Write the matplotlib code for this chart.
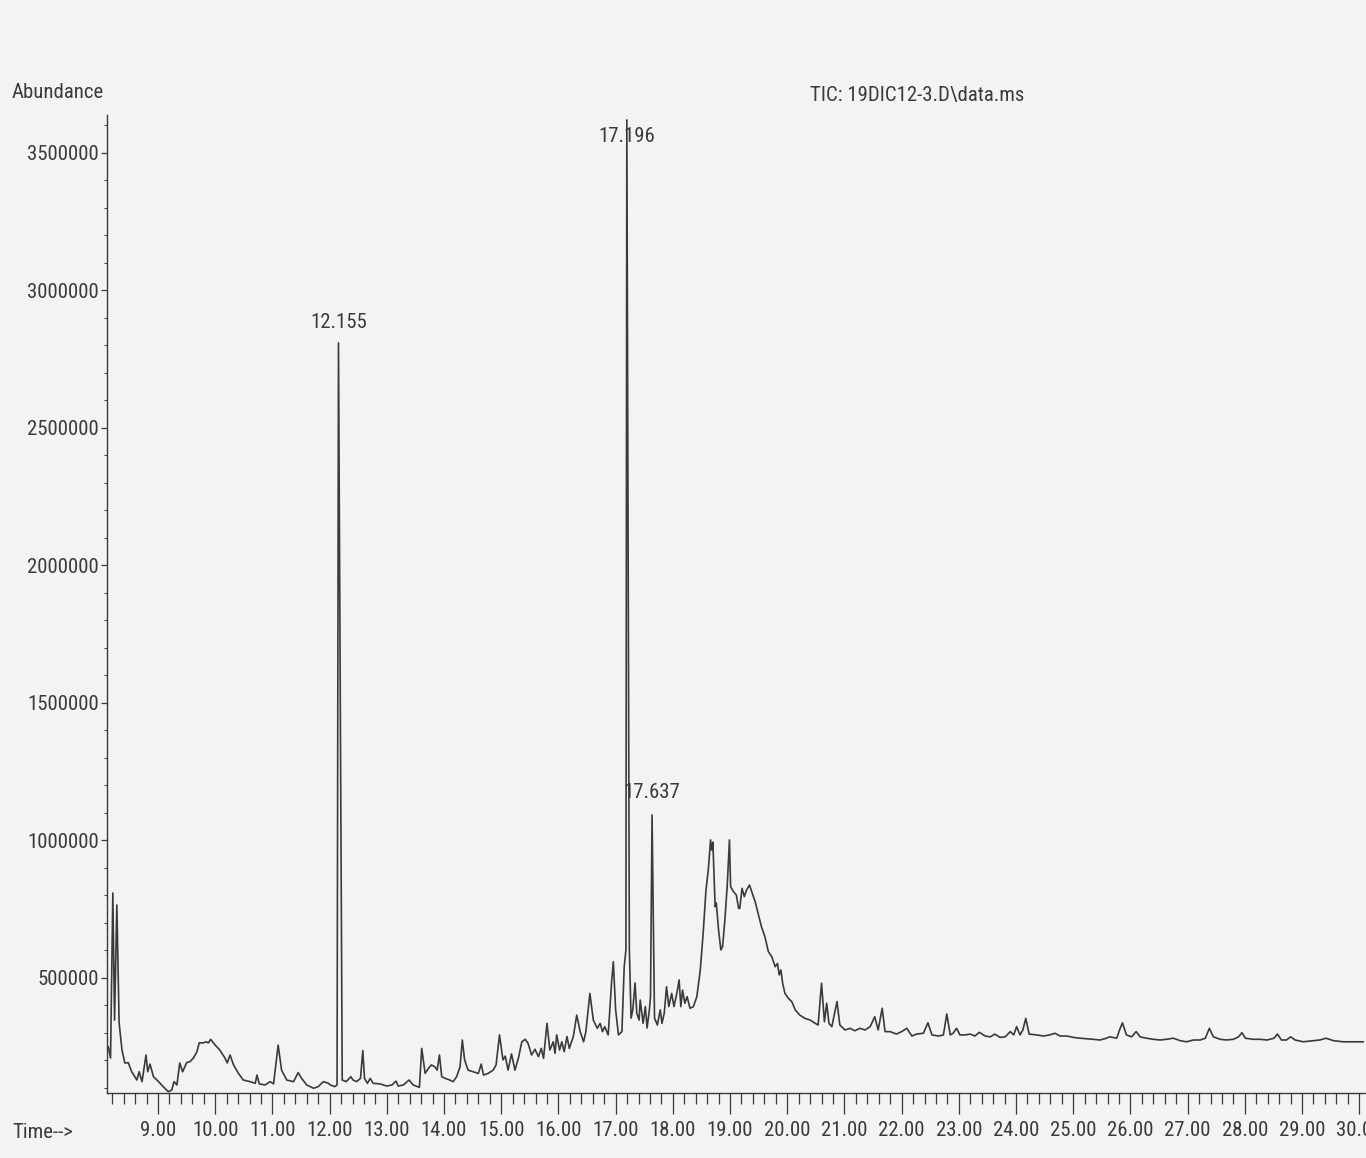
import numpy as np
import matplotlib
matplotlib.use('Agg')
import matplotlib.pyplot as plt
from matplotlib import font_manager as fm
from matplotlib.ticker import MultipleLocator, FuncFormatter

# retention time (min)
time = [
    8.09, 8.13, 8.17, 8.21, 8.24, 8.28, 8.32, 8.37, 8.42, 8.48, 8.54, 8.63, 8.67, 8.72, 8.79,
    8.82, 8.86, 8.92, 9.01, 9.09, 9.18, 9.24, 9.28, 9.33, 9.38, 9.43, 9.50, 9.56, 9.62, 9.68,
    9.72, 9.79, 9.84, 9.88, 9.92, 10.00, 10.08, 10.17, 10.21, 10.26, 10.32, 10.40, 10.49, 10.61,
    10.70, 10.73, 10.77, 10.87, 10.96, 11.02, 11.10, 11.16, 11.25, 11.37, 11.45, 11.51, 11.60,
    11.72, 11.80, 11.89, 11.98, 12.01, 12.09, 12.13, 12.155, 12.22, 12.29, 12.37, 12.41, 12.47,
    12.54, 12.58, 12.61, 12.66, 12.71, 12.76, 12.88, 13.00, 13.09, 13.16, 13.20, 13.29, 13.39,
    13.46, 13.57, 13.61, 13.67, 13.73, 13.78, 13.84, 13.88, 13.92, 13.96, 14.02, 14.10, 14.16,
    14.22, 14.28, 14.32, 14.36, 14.42, 14.51, 14.60, 14.65, 14.69, 14.77, 14.86, 14.91, 14.97,
    15.03, 15.07, 15.12, 15.18, 15.24, 15.30, 15.36, 15.42, 15.47, 15.53, 15.59, 15.65, 15.70,
    15.74, 15.80, 15.85, 15.91, 15.94, 15.97, 16.02, 16.06, 16.10, 16.15, 16.19, 16.26, 16.32,
    16.38, 16.44, 16.48, 16.55, 16.61, 16.68, 16.73, 16.77, 16.81, 16.87, 16.93, 16.96, 17.00,
    17.05, 17.11, 17.15, 17.18, 17.196, 17.24, 17.27, 17.30, 17.34, 17.37, 17.41, 17.43, 17.48,
    17.52, 17.55, 17.59, 17.61, 17.637, 17.68, 17.73, 17.78, 17.81, 17.85, 17.89, 17.93, 17.98,
    18.02, 18.07, 18.11, 18.14, 18.17, 18.21, 18.25, 18.30, 18.36, 18.42, 18.48, 18.53, 18.58,
    18.62, 18.66, 18.68, 18.70, 18.74, 18.76, 18.80, 18.84, 18.87, 18.91, 18.95, 18.99, 19.01,
    19.06, 19.11, 19.15, 19.17, 19.21, 19.25, 19.29, 19.34, 19.38, 19.44, 19.49, 19.55, 19.61,
    19.67, 19.73, 19.79, 19.83, 19.86, 19.89, 19.92, 19.96, 20.02, 20.08, 20.14, 20.22, 20.31,
    20.40, 20.49, 20.54, 20.60, 20.65, 20.69, 20.73, 20.78, 20.87, 20.92, 21.01, 21.10, 21.18,
    21.27, 21.36, 21.45, 21.53, 21.59, 21.66, 21.71, 21.80, 21.91, 22.00, 22.09, 22.18, 22.26,
    22.38, 22.46, 22.53, 22.65, 22.73, 22.79, 22.85, 22.90, 22.96, 23.02, 23.11, 23.20, 23.28,
    23.36, 23.46, 23.55, 23.63, 23.72, 23.81, 23.90, 23.96, 24.01, 24.07, 24.12, 24.17, 24.23,
    24.36, 24.48, 24.59, 24.68, 24.77, 24.89, 25.00, 25.12, 25.24, 25.35, 25.47, 25.58, 25.64,
    25.76, 25.81, 25.86, 25.93, 26.02, 26.10, 26.17, 26.28, 26.40, 26.52, 26.63, 26.75, 26.87,
    26.98, 27.10, 27.22, 27.31, 27.38, 27.45, 27.57, 27.68, 27.80, 27.89, 27.95, 28.01, 28.15,
    28.27, 28.39, 28.51, 28.57, 28.64, 28.73, 28.80, 28.88, 29.02, 29.20, 29.31, 29.42, 29.55,
    29.72, 29.89, 30.07,
]

# total ion current abundance
abundance = [
    245000, 250000, 209000, 809000, 347000, 765000, 336000, 238000, 191000, 192000, 159000,
    129000, 159000, 123000, 220000, 159000, 187000, 141000, 123000, 105000, 86500, 92700,
    123000, 111000, 191000, 159000, 192000, 196000, 209000, 232000, 264000, 264000, 268000,
    264000, 277000, 256000, 238000, 209000, 191000, 220000, 184000, 155000, 129000, 123000,
    117000, 147000, 115000, 111000, 123000, 115000, 256000, 165000, 129000, 123000, 156000,
    135000, 111000, 99000, 105000, 123000, 117000, 111000, 105000, 111000, 2809000, 129000,
    123000, 141000, 129000, 123000, 135000, 236000, 135000, 117000, 135000, 117000, 115000,
    107000, 111000, 125000, 107000, 111000, 129000, 111000, 102500, 244000, 153000, 172000,
    184000, 177000, 165000, 220000, 141000, 135000, 129000, 123000, 141000, 177000, 274500,
    202000, 165000, 159000, 153000, 187000, 147000, 153000, 165000, 184000, 293000, 202000,
    216000, 165000, 224000, 165000, 208000, 268000, 277000, 262000, 220000, 241000, 214000,
    244000, 208000, 335000, 238000, 268000, 226000, 293000, 238000, 268000, 232000, 287000,
    244000, 287000, 365000, 305000, 268000, 305000, 444000, 347000, 317000, 335000, 305000,
    323000, 293000, 486000, 559000, 384000, 293000, 305000, 541000, 602000, 3620000, 602000,
    354000, 384000, 482000, 372000, 347000, 420000, 335000, 396000, 318000, 384000, 432000,
    1093000, 354000, 329000, 384000, 335000, 372000, 468000, 396000, 444000, 396000, 444000,
    493000, 396000, 456000, 408000, 432000, 390000, 396000, 432000, 529000, 662000, 820000,
    893000, 1002000, 965000, 994000, 759000, 773000, 674000, 602000, 614000, 711000, 832000,
    1002000, 832000, 814000, 802000, 753000, 753000, 826000, 796000, 820000, 838000, 814000,
    777000, 735000, 686000, 650000, 596000, 577000, 541000, 553000, 511000, 529000, 481000,
    444000, 426000, 414000, 384000, 365000, 353000, 347000, 335000, 329000, 481000, 341000,
    408000, 335000, 323000, 414000, 329000, 311000, 317000, 308000, 317000, 311000, 323000,
    359000, 311000, 390000, 305000, 305000, 296000, 305000, 317000, 289000, 296000, 299000,
    337000, 293000, 289000, 293000, 369000, 293000, 299000, 317000, 293000, 293000, 296000,
    289000, 302500, 289000, 286000, 296000, 284000, 286000, 305000, 293000, 323000, 293000,
    311000, 353000, 296000, 293000, 289000, 293000, 299000, 289000, 289000, 284000, 281000,
    279000, 277000, 274500, 281000, 286000, 281000, 311000, 337000, 293000, 286000, 305000,
    286000, 281000, 277000, 274500, 277000, 281000, 272000, 268000, 274500, 274500, 281000,
    317000, 286000, 277000, 274500, 277000, 286000, 301000, 281000, 277000, 277000, 274500,
    281000, 296000, 274500, 274500, 286000, 274500, 268000, 272000, 274500, 281000, 272000,
    268000, 268000, 268000,
]

# labelled peaks: retention time, apex abundance
peak_rt = [12.155, 17.196, 17.637]
peak_lbl = ['12.155', '17.196', '17.637']
peak_top = [2809000, 3620000, 1093000]

W, H = 1366, 1158
BG = '#f3f3f2'
INK = '#3a3a3a'


def pick_font():
    # the printout uses a narrow sans; take a condensed face if one is installed
    prefs = ['Liberation Sans Narrow', 'Arial Narrow', 'Roboto Condensed',
             'Open Sans Condensed', 'DejaVu Sans Condensed', 'Noto Sans Condensed']
    regular = [f for f in fm.fontManager.ttflist
               if f.style == 'normal' and f.weight in (400, 'normal', 'regular')]
    for name in prefs:
        for f in regular:
            if f.name == name:
                return fm.FontProperties(fname=f.fname)
    for f in regular:
        if f.stretch in ('condensed', 'semi-condensed') or 'Narrow' in f.name \
                or 'Condensed' in f.name:
            return fm.FontProperties(fname=f.fname)
    return fm.FontProperties(family='Liberation Sans')


fig = plt.figure(figsize=(W / 100, H / 100), dpi=100, facecolor=BG)
renderer = fig.canvas.get_renderer()

font = pick_font()
# size the font so that "3500000" is ~72 px wide, close to the printout
probe = fig.text(0, 0, '3500000', fontproperties=font, fontsize=20)
wpx = probe.get_window_extent(renderer).width
probe.remove()
fsize = min(20 * 72.0 / wpx, 20)
font.set_size(fsize)

# axes in pixel terms: left 107, x-axis line at 1093, top at 115; 57.2 px per minute
x0, x1 = 8.108, 30.3
ax = fig.add_axes([107 / W, 1 - 1093 / H, (x1 - x0) * 57.2 / W, (1093 - 115) / H])
ax.set_facecolor(BG)

ax.plot(time, abundance, color=INK, lw=1.2)

ax.set_xlim(x0, x1)
ax.set_ylim(81800, 3637800)

for s in ['top', 'right']:
    ax.spines[s].set_visible(False)
for s in ['left', 'bottom']:
    ax.spines[s].set_color(INK)
    ax.spines[s].set_linewidth(1.0)

ax.xaxis.set_major_locator(MultipleLocator(1.0))
ax.xaxis.set_minor_locator(MultipleLocator(0.2))
ax.xaxis.set_major_formatter(FuncFormatter(lambda v, p: f'{v:.2f}'))
ax.yaxis.set_major_locator(MultipleLocator(500000))
ax.yaxis.set_minor_locator(MultipleLocator(100000))
ax.yaxis.set_major_formatter(FuncFormatter(lambda v, p: f'{int(v)}'))

ax.tick_params(axis='x', which='major', length=15, width=0.9, color=INK,
               labelcolor=INK, pad=5)
ax.tick_params(axis='x', which='minor', length=8, width=0.9, color=INK)
ax.tick_params(axis='y', which='major', length=4, width=0.9, color=INK,
               labelcolor=INK, pad=2)
ax.tick_params(axis='y', which='minor', length=2, width=0.7, color=INK)

fig.canvas.draw()
for lbl in ax.get_xticklabels() + ax.get_yticklabels():
    lbl.set_fontproperties(font)

# label offsets (points) relative to each apex, as printed
offs = [15, -12, 16]
for rt, lbl, top, dy in zip(peak_rt, peak_lbl, peak_top, offs):
    ax.annotate(lbl, xy=(rt, top), xytext=(0, dy), textcoords='offset points',
                ha='center', va='center', fontproperties=font, color=INK)

fig.text(12 / W, 1 - 93 / H, 'Abundance', ha='left', va='center',
         fontproperties=font, color=INK)
fig.text(12 / W, 1 - 1133 / H, 'Time-->', ha='left', va='center',
         fontproperties=font, color=INK)
fig.text(810 / W, 1 - 95 / H, 'TIC: 19DIC12-3.D\\data.ms', ha='left', va='center',
         fontproperties=font, color=INK)

fig.savefig('out.png', dpi=100, facecolor=BG)
